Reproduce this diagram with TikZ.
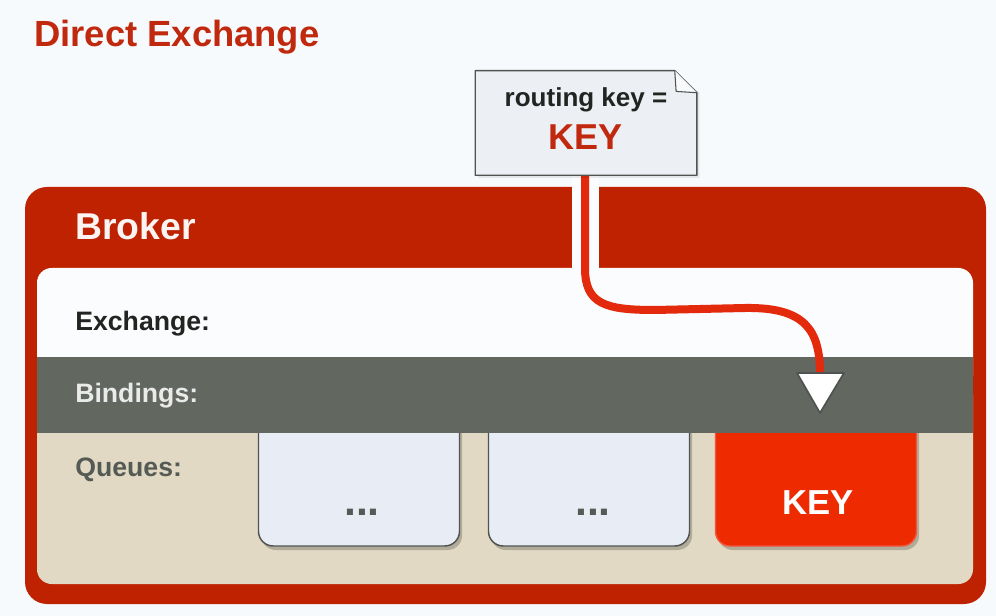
\documentclass[tikz,border=0pt]{standalone}
\usepackage{fontspec}
\setmainfont{Liberation Sans}
\usetikzlibrary{shadows}
\definecolor{bgc}{HTML}{F7FAFC}
\definecolor{titlered}{HTML}{C1290F}
\definecolor{brokerred}{HTML}{BE2200}
\definecolor{linered}{HTML}{E42A0D}
\definecolor{panelwhite}{HTML}{FAFCFE}
\definecolor{bandgray}{HTML}{626760}
\definecolor{beige}{HTML}{E1D9C3}
\definecolor{notefill}{HTML}{ECEFF3}
\definecolor{edgegray}{HTML}{505450}
\definecolor{qfill}{HTML}{E8ECF4}
\definecolor{qred}{HTML}{EE2A00}
\definecolor{qredge}{HTML}{F2553A}
\definecolor{bindtext}{HTML}{E9EAE9}
\definecolor{queuetext}{HTML}{555A55}
\definecolor{darktext}{HTML}{222422}
\begin{document}
\begin{tikzpicture}[x=0.75pt,y=-0.75pt,
  rowlabel/.style={anchor=base west,inner sep=0,font=\bfseries\fontsize{20}{24}\selectfont},
  qbox/.style={rectangle,rounded corners=11pt,minimum width=150.75pt,minimum height=102pt,
    line width=1.1pt,drop shadow={shadow xshift=2pt,shadow yshift=-3pt,fill=black!60!beige,opacity=0.35}},
  greybox/.style={qbox,draw=edgegray,fill=qfill},
  redbox/.style={qbox,draw=qredge,fill=qred},
  dots/.style={anchor=base,inner sep=0,text=queuetext,font=\bfseries\fontsize{32}{36}\selectfont}]
\fill[bgc] (0,0) rectangle (996,616);
\useasboundingbox (0,0) rectangle (996,616);

\node[anchor=base west,inner sep=0,text=titlered,font=\bfseries\fontsize{27.3}{32}\selectfont] (title) at (34,47) {Direct Exchange};

% broker frame
\fill[brokerred,rounded corners=16.5pt] (25,187) rectangle (986,604);
\fill[beige,rounded corners=11pt] (37,380) rectangle (973,584);
\fill[panelwhite,rounded corners=11pt] (37,268) rectangle (973,390);

% queues
\node[greybox] (q1) at (359,478) {};
\node[greybox] (q2) at (589,478) {};
\node[redbox]  (q3) at (816,478) {};

\fill[bandgray] (37,357) rectangle (973,433);

\node[anchor=base west,inner sep=0,text=white!95!brokerred,font=\bfseries\fontsize{28}{32}\selectfont] (broker) at (75,240) {Broker};
\node[rowlabel,text=darktext] (exch) at (75,331) {Exchange:};
\node[rowlabel,text=bindtext] (bind) at (75,403) {Bindings:};
\node[rowlabel,text=queuetext] (queues) at (75,476) {Queues:};

\node[dots] (d1) at (362,515) {...};
\node[dots] (d2) at (593,515) {...};
\node[anchor=base,inner sep=0,text=white,font=\bfseries\fontsize{26}{30}\selectfont] (qkey) at (818,514) {KEY};

% routing-key note
\node[rectangle,minimum width=165.75pt,minimum height=78pt,inner sep=0] (note) at (586,123) {};
\coordinate (gapend) at (585,268);
\draw[panelwhite,line width=20.25pt] (note.south -| gapend) -- (gapend);
\coordinate (tip) at (820,374);
\draw[linered,line width=6pt] (note.south -| gapend) -- (gapend)
  .. controls (585,304) and (605,310) .. (655,310) -- (745,308)
  .. controls (805,307) and (820,330) .. (tip);
\draw[edgegray,line width=1.3pt,fill=white,line join=round] (797,373) -- (844,373) -- (tip |- 0,413) -- cycle;

\fill[black,opacity=0.08] ([xshift=2pt,yshift=-2pt]note.north west) -- ([xshift=-14.5pt,yshift=-2pt]note.north east) -- ([xshift=2pt,yshift=-16.5pt]note.north east) -- ([xshift=2pt,yshift=-2pt]note.south east) -- ([xshift=2pt,yshift=-2pt]note.south west) -- cycle;
\draw[edgegray,line width=1.1pt,fill=notefill,line join=round] (note.north west) -- ([xshift=-16.5pt]note.north east) -- ([yshift=-16.5pt]note.north east) -- (note.south east) -- (note.south west) -- cycle;
\draw[edgegray,line width=0.8pt,fill=white!70!notefill,line join=round] ([xshift=-16.5pt]note.north east) -- ([xshift=-15.5pt,yshift=-15.5pt]note.north east) -- ([yshift=-16.5pt]note.north east);
\node[anchor=base,inner sep=0,text=darktext,font=\bfseries\fontsize{19.5}{22}\selectfont] (rk) at (586,107) {routing key =};
\node[anchor=base,inner sep=0,text=titlered,font=\bfseries\fontsize{27}{30}\selectfont] (nkey) at (586,150) {KEY};
\end{tikzpicture}
\end{document}
